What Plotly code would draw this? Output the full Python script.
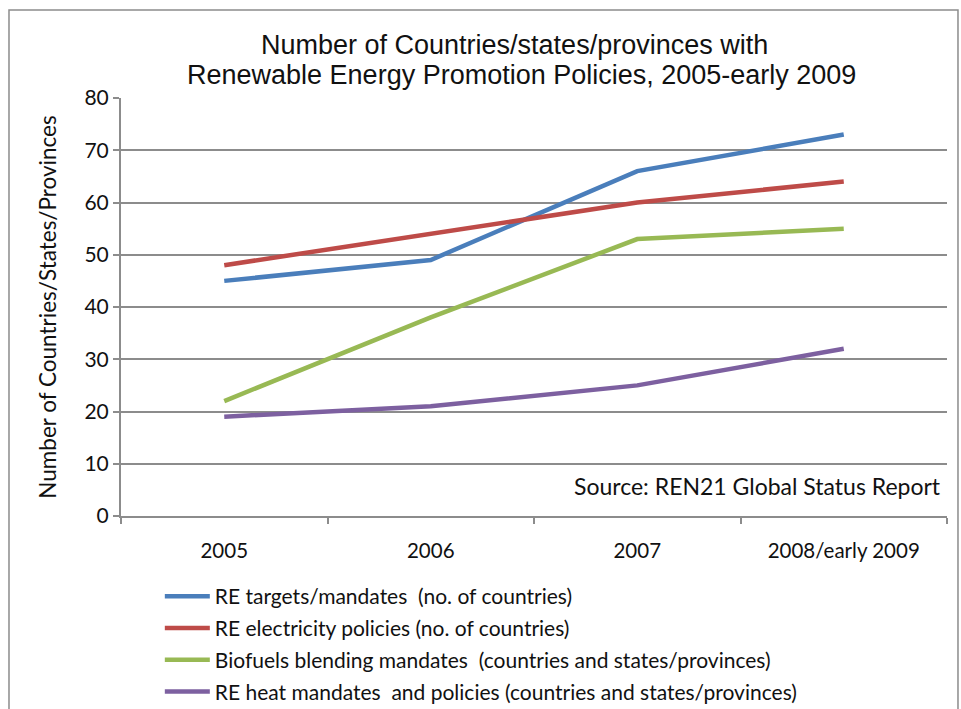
import plotly.graph_objects as go

categories = ["2005", "2006", "2007", "2008/early 2009"]
series_names = [
    "RE targets/mandates  (no. of countries)",
    "RE electricity policies (no. of countries)",
    "Biofuels blending mandates  (countries and states/provinces)",
    "RE heat mandates  and policies (countries and states/provinces)",
]
re_targets = [45, 49, 66, 73]
re_electricity = [48, 54, 60, 64]
biofuels = [22, 38, 53, 55]
re_heat = [19, 21, 25, 32]
y_ticks = [0, 10, 20, 30, 40, 50, 60, 70, 80]
title_lines = [
    "Number of Countries/states/provinces with",
    "Renewable Energy Promotion Policies, 2005-early 2009",
]

colors = ["#4A7EBB", "#BE4B48", "#98B954", "#7D60A0"]
values = [re_targets, re_electricity, biofuels, re_heat]

BODY = "Lato, 'Open Sans', sans-serif"
TITLE = "'Liberation Sans', Arial, sans-serif"
GRID = "#8c8c8c"
TXT = "#111111"

fig = go.Figure()
for i, (name, vals, c) in enumerate(zip(series_names, values, colors)):
    fig.add_trace(go.Scatter(
        x=categories, y=vals, name=name, mode="lines",
        line=dict(color=c, width=4.5), legendgroup=str(i),
    ))

fig.update_layout(
    width=961, height=709,
    margin=dict(l=121, r=14, t=98, b=193, autoexpand=False),
    paper_bgcolor="white", plot_bgcolor="white",
    xaxis=dict(
        type="category", tickson="boundaries", ticks="outside", ticklen=6,
        tickcolor=GRID, tickwidth=1.5, showline=True, linecolor=GRID, linewidth=2,
        showgrid=False, tickfont=dict(family=BODY, size=20.5, color=TXT),
        ticklabelstandoff=15, range=[-0.5, 3.5],
    ),
    yaxis=dict(
        range=[0, 80], tickvals=y_ticks, ticks="outside", ticklen=6,
        tickcolor=GRID, tickwidth=1.5, showline=True, linecolor=GRID, linewidth=2,
        showgrid=True, gridcolor=GRID, gridwidth=1.5, zeroline=False,
        tickfont=dict(family=BODY, size=21, color=TXT),
        title=dict(text="Number of Countries/States/Provinces",
                   font=dict(family=BODY, size=22.5, color=TXT), standoff=22),
    ),
    legend=dict(
        x=0.047, xanchor="left", y=-0.1435, yanchor="top",
        font=dict(family=BODY, size=21, color=TXT),
        tracegroupgap=1.5, itemwidth=45, bgcolor="rgba(0,0,0,0)",
    ),
    showlegend=True,
)

title_x = [0.4758, 0.4849]
title_y = [1.1268, 1.055]
for txt, tx, ty in zip(title_lines, title_x, title_y):
    fig.add_annotation(
        text=txt, xref="paper", yref="paper", x=tx, y=ty,
        xanchor="center", yanchor="middle", showarrow=False,
        font=dict(family=TITLE, size=27, color=TXT),
    )

fig.add_annotation(
    text="Source: REN21 Global Status Report", xref="paper", yref="paper",
    x=0.995, y=0.072, xanchor="right", yanchor="middle", showarrow=False,
    font=dict(family=BODY, size=23, color=TXT),
)

fig.add_shape(
    type="rect", xref="paper", yref="paper",
    x0=-0.1356, x1=1.0133, y0=-0.5, y1=1.2105,
    line=dict(color="#8c8c8c", width=1.5), fillcolor="rgba(0,0,0,0)", layer="below",
)

fig.write_html("out.html")
